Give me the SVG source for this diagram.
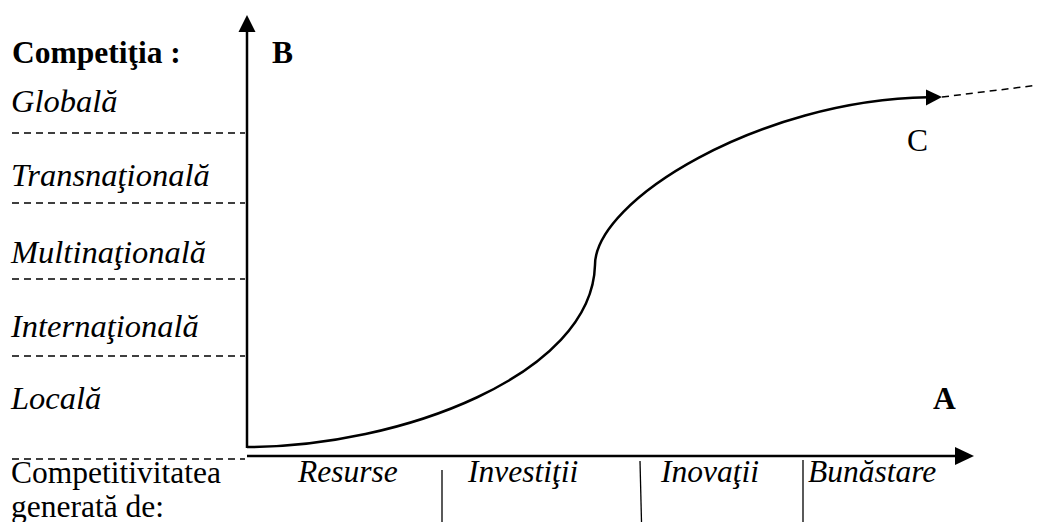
<svg xmlns="http://www.w3.org/2000/svg" width="1037" height="522" viewBox="0 0 1037 522">
<style>
text{font-family:"Liberation Serif","Times New Roman",serif;font-size:31.5px;fill:#000}
.b{font-weight:bold}
.i{font-style:italic}
.l{font-size:32.5px}
.axis{stroke:#000;stroke-width:2.5;fill:none}
.dash{stroke:#000;stroke-width:1.5;stroke-dasharray:7 5;fill:none}
.tick{stroke:#000;stroke-width:1.3;fill:none}
.curve{stroke:#000;stroke-width:2.5;fill:none}
</style>
<rect width="1037" height="522" fill="#fff"/>
<g id="y-axis-labels">
<text class="b" x="12" y="63">Competiţia :</text>
<text class="i l" x="11" y="112">Globală</text>
<text class="i l" x="11" y="186">Transnaţională</text>
<text class="i l" x="11" y="263">Multinaţională</text>
<text class="i l" x="11" y="337">Internaţională</text>
<text class="i l" x="11" y="409">Locală</text>
</g>
<g id="levels">
<line class="dash" x1="12" y1="133" x2="245" y2="133"/>
<line class="dash" x1="12" y1="203" x2="245" y2="203"/>
<line class="dash" x1="12" y1="279" x2="245" y2="279"/>
<line class="dash" x1="12" y1="356" x2="245" y2="356"/>
<line class="dash" x1="12" y1="459" x2="245" y2="459"/>
</g>
<g id="axes">
<line class="axis" x1="247" y1="448" x2="247" y2="30"/>
<polygon points="247,15 238.5,32 255.5,32" fill="#000"/>
<line class="axis" x1="247" y1="456" x2="957" y2="456"/>
<polygon points="974,456 955,447 955,465" fill="#000"/>
</g>
<g id="axis-letters">
<text class="b" x="272" y="63">B</text>
<text class="b" x="933" y="409">A</text>
<text x="907" y="151">C</text>
</g>
<g id="connectors">
<path class="curve" d="M247,447 C400,447 592,375 595,265 C595,200 760,100 928,97.3"/>
<polygon points="942,97 926,89.5 926,105.5" fill="#000"/>
<line class="dash" x1="942" y1="97" x2="1035" y2="85.5"/>
</g>
<g id="x-axis-labels">
<text x="11" y="483">Competitivitatea</text>
<text x="11" y="517">generată de:</text>
<text class="i" x="298" y="482">Resurse</text>
<text class="i" x="468" y="482">Investiţii</text>
<text class="i" x="661" y="482">Inovaţii</text>
<text class="i" x="808" y="482">Bunăstare</text>
</g>
<g id="dividers">
<line class="tick" x1="442" y1="470" x2="442" y2="522"/>
<line class="tick" x1="640" y1="461" x2="641.5" y2="522"/>
<line class="tick" x1="803" y1="460" x2="803" y2="522"/>
</g>
</svg>
